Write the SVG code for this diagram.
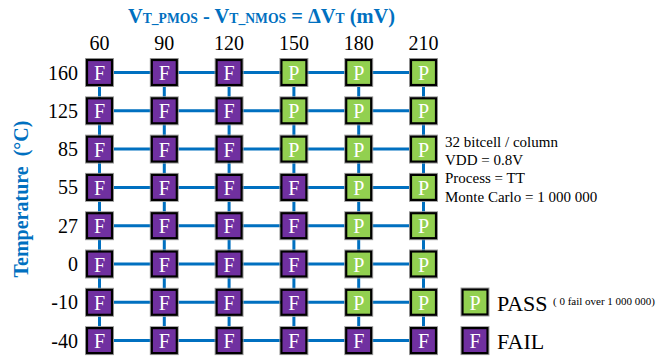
<svg xmlns="http://www.w3.org/2000/svg" width="659" height="356" viewBox="0 0 659 356">
<style>
.t{font-family:"Liberation Serif",serif;fill:#000}
.b{font-family:"Liberation Serif",serif;fill:#0070C0;font-weight:bold}
.lbl{font-size:20px}
.ch{font-family:"Liberation Serif",serif;font-size:20px;fill:#fff;text-anchor:middle}
.w{stroke:#0070C0;stroke-width:3;fill:none}
.sh{fill:none;stroke:#a0a0a0;stroke-width:1}
.bx{stroke:#000;stroke-width:2.2}
.f{fill:#7030A0}
.p{fill:#92D050}
</style>
<defs>
<g id="F"><rect class="sh" x="-14" y="-14" width="28" height="28"/><rect class="bx f" x="-12.5" y="-12.5" width="25" height="25"/><text class="ch" x="0" y="7.5">F</text></g>
<g id="P"><rect class="sh" x="-14" y="-14" width="28" height="28"/><rect class="bx p" x="-12.5" y="-12.5" width="25" height="25"/><text class="ch" x="0" y="7.5">P</text></g>
</defs>
<text class="b" x="128" y="23" textLength="267" lengthAdjust="spacingAndGlyphs"><tspan font-size="21">V</tspan><tspan font-size="14">T_PMOS</tspan><tspan font-size="21"> - V</tspan><tspan font-size="14">T_NMOS</tspan><tspan font-size="21"> = ΔV</tspan><tspan font-size="14">T</tspan><tspan font-size="21"> (mV)</tspan></text>
<text class="b" font-size="20" transform="translate(28,199) rotate(-90)" text-anchor="middle" xml:space="preserve">Temperature  (°C)</text>
<g id="collabels" class="t lbl" text-anchor="middle">
<text x="99.5" y="50">60</text><text x="164.3" y="50">90</text><text x="229.1" y="50">120</text><text x="293.9" y="50">150</text><text x="358.7" y="50">180</text><text x="423.5" y="50">210</text>
</g>
<g id="rowlabels" class="t lbl" text-anchor="end">
<text x="78" y="79.5">160</text><text x="78" y="117.8">125</text><text x="78" y="156.1">85</text><text x="78" y="194.4">55</text><text x="78" y="232.7">27</text><text x="78" y="271">0</text><text x="78" y="309.3">-10</text><text x="78" y="347.6">-40</text>
</g>
<g id="connectors" class="w">
<path d="M99.5 72.5H423.5M99.5 110.8H423.5M99.5 149.1H423.5M99.5 187.4H423.5M99.5 225.7H423.5M99.5 264H423.5M99.5 302.3H423.5M99.5 340.6H423.5"/>
<path d="M99.5 72.5V340.6M164.3 72.5V340.6M229.1 72.5V340.6M293.9 72.5V340.6M358.7 72.5V340.6M423.5 72.5V340.6"/>
</g>
<g id="r160"><use href="#F" x="99.5" y="72.5"/><use href="#F" x="164.3" y="72.5"/><use href="#F" x="229.1" y="72.5"/><use href="#P" x="293.9" y="72.5"/><use href="#P" x="358.7" y="72.5"/><use href="#P" x="423.5" y="72.5"/></g>
<g id="r125"><use href="#F" x="99.5" y="110.8"/><use href="#F" x="164.3" y="110.8"/><use href="#F" x="229.1" y="110.8"/><use href="#P" x="293.9" y="110.8"/><use href="#P" x="358.7" y="110.8"/><use href="#P" x="423.5" y="110.8"/></g>
<g id="r85"><use href="#F" x="99.5" y="149.1"/><use href="#F" x="164.3" y="149.1"/><use href="#F" x="229.1" y="149.1"/><use href="#P" x="293.9" y="149.1"/><use href="#P" x="358.7" y="149.1"/><use href="#P" x="423.5" y="149.1"/></g>
<g id="r55"><use href="#F" x="99.5" y="187.4"/><use href="#F" x="164.3" y="187.4"/><use href="#F" x="229.1" y="187.4"/><use href="#F" x="293.9" y="187.4"/><use href="#P" x="358.7" y="187.4"/><use href="#P" x="423.5" y="187.4"/></g>
<g id="r27"><use href="#F" x="99.5" y="225.7"/><use href="#F" x="164.3" y="225.7"/><use href="#F" x="229.1" y="225.7"/><use href="#F" x="293.9" y="225.7"/><use href="#P" x="358.7" y="225.7"/><use href="#P" x="423.5" y="225.7"/></g>
<g id="r0"><use href="#F" x="99.5" y="264"/><use href="#F" x="164.3" y="264"/><use href="#F" x="229.1" y="264"/><use href="#F" x="293.9" y="264"/><use href="#P" x="358.7" y="264"/><use href="#P" x="423.5" y="264"/></g>
<g id="rm10"><use href="#F" x="99.5" y="302.3"/><use href="#F" x="164.3" y="302.3"/><use href="#F" x="229.1" y="302.3"/><use href="#F" x="293.9" y="302.3"/><use href="#P" x="358.7" y="302.3"/><use href="#P" x="423.5" y="302.3"/></g>
<g id="rm40"><use href="#F" x="99.5" y="340.6"/><use href="#F" x="164.3" y="340.6"/><use href="#F" x="229.1" y="340.6"/><use href="#F" x="293.9" y="340.6"/><use href="#F" x="358.7" y="340.6"/><use href="#F" x="423.5" y="340.6"/></g>
<g id="info" class="t" font-size="15">
<text x="445" y="147">32 bitcell / column</text>
<text x="445" y="165">VDD = 0.8V</text>
<text x="445" y="183">Process = TT</text>
<text x="445" y="202">Monte Carlo = 1 000 000</text>
</g>
<g id="legend-pass"><use href="#P" x="475" y="302"/><text class="t" x="497" y="310.5" font-size="22">PASS</text><text class="t" x="553" y="305" font-size="11">( 0 fail over 1 000 000)</text></g>
<g id="legend-fail"><use href="#F" x="475" y="340.6"/><text class="t" x="497" y="348.5" font-size="22">FAIL</text></g>
</svg>
